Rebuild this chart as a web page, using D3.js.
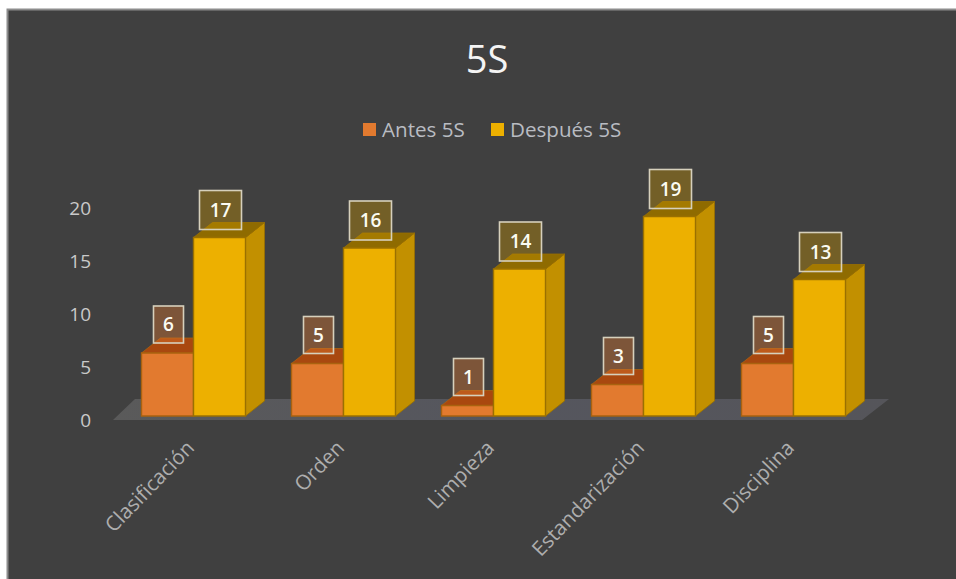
<!DOCTYPE html>
<html>
<head>
<meta charset="utf-8">
<script src="https://cdn.jsdelivr.net/npm/d3@7"></script>
<style>
  html, body { margin: 0; padding: 0; background: #fff; }
  svg { display: block; }
  text { font-family: "Open Sans", sans-serif; }
</style>
</head>
<body>
<div id="chart"></div>
<script>
const categories = ["Clasificación", "Orden", "Limpieza", "Estandarización", "Disciplina"];
const seriesNames = ["Antes 5S", "Después 5S"];
const antes = [6, 5, 1, 3, 5];
const despues = [17, 16, 14, 19, 13];
const yTicks = [0, 5, 10, 15, 20];
const seriesColors = [
  { front: "#e27a2f", top: "#a9480f", side: "#b85f1c", edge: "#a9620f", box: "#e27a2f" },
  { front: "#edb000", top: "#8f6b00", side: "#c29000", edge: "#9a7000", box: "#c79400" }
];

const width = 956, height = 579;
const depthX = 19, depthY = 15;

const svg = d3.select("#chart").append("svg").attr("width", width).attr("height", height);

svg.append("rect").attr("width", width).attr("height", height).attr("fill", "#fff");
svg.append("rect").attr("x", 7.5).attr("y", 9.5).attr("width", width + 20).attr("height", height + 20)
  .attr("fill", "#404040").attr("stroke", "#8c8c8c").attr("stroke-width", 2);

const defs = svg.append("defs");
const floorGrad = defs.append("linearGradient").attr("id", "floorFill");
floorGrad.append("stop").attr("offset", "0").attr("stop-color", "#5a5a5a");
floorGrad.append("stop").attr("offset", "0.5").attr("stop-color", "#55565e");
floorGrad.append("stop").attr("offset", "1").attr("stop-color", "#55555a");

const x = d3.scaleBand().domain(categories).range([118.5, 868.5]);
const inner = d3.scaleBand().domain(seriesNames).range([x.bandwidth() / 2 - 52, x.bandwidth() / 2 + 52]);
const y = d3.scaleLinear().domain([0, 20]).range([416, 206]);
const axisY = d3.scaleLinear().domain([0, 20]).range([420, 208]);

// Title
svg.append("text").attr("x", 487).attr("y", 73).attr("text-anchor", "middle")
  .attr("font-size", 38).attr("fill", "#f4f4f4").text("5S");

// Legend
const legendItems = [{ sx: 363, tx: 382 }, { sx: 491, tx: 510 }];
seriesNames.forEach((name, i) => {
  svg.append("rect").attr("x", legendItems[i].sx).attr("y", 123).attr("width", 13).attr("height", 13)
    .attr("fill", seriesColors[i].front);
  svg.append("text").attr("x", legendItems[i].tx).attr("y", 137)
    .attr("font-size", 20.6).attr("fill", "#b9bcc2").text(name);
});

// Floor of the 3D plot
const floor = d3.path();
floor.moveTo(113, 420); floor.lineTo(135, 399); floor.lineTo(889, 399); floor.lineTo(862, 420); floor.closePath();
svg.append("path").attr("d", floor.toString()).attr("fill", "url(#floorFill)");

// Value axis
const yAxis = svg.append("g").attr("transform", "translate(91,0)")
  .call(d3.axisLeft(axisY).tickValues(yTicks).tickSize(0).tickPadding(0));
yAxis.select(".domain").remove();
yAxis.selectAll("text").attr("font-size", 19).attr("fill", "#c9c9c9")
  .style("font-family", '"Open Sans", sans-serif');

// Category axis
const xAxis = svg.append("g").attr("transform", "translate(0,416)")
  .call(d3.axisBottom(x).tickSize(0).tickPadding(0));
xAxis.select(".domain").remove();
xAxis.selectAll("text")
  .attr("font-size", 20.5).attr("fill", "#aeaeae")
  .style("font-family", '"Open Sans", sans-serif')
  .attr("text-anchor", "end").attr("dy", 0).attr("y", 0)
  .attr("transform", "translate(2,33) rotate(-46)");

// Bars: front, top and side faces
const prism = {
  front: (l, r, t, b) => `M${l},${t}L${r},${t}L${r},${b}L${l},${b}Z`,
  top: (l, r, t) => `M${l},${t}L${l + depthX},${t - depthY}L${r + depthX},${t - depthY}L${r},${t}Z`,
  side: (r, t, b) => `M${r},${t}L${r + depthX},${t - depthY}L${r + depthX},${b - depthY}L${r},${b}Z`
};

const seriesValues = [antes, despues];
const groups = svg.selectAll("g.group").data(categories).join("g")
  .attr("class", "group")
  .attr("transform", d => `translate(${x(d)},0)`);

seriesNames.forEach((name, s) => {
  const c = seriesColors[s];
  const l = inner(name), r = l + inner.bandwidth();
  groups.append("path").attr("d", (d, i) => prism.side(r, y(seriesValues[s][i]), y(0)))
    .attr("fill", c.side).attr("stroke", c.edge).attr("stroke-width", 0.8);
  groups.append("path").attr("d", (d, i) => prism.top(l, r, y(seriesValues[s][i])))
    .attr("fill", c.top).attr("stroke", c.edge).attr("stroke-width", 0.8);
  groups.append("path").attr("d", (d, i) => prism.front(l, r, y(seriesValues[s][i]), y(0)))
    .attr("fill", c.front).attr("stroke", c.edge).attr("stroke-width", 1.4);
});

// Value labels in translucent boxes
seriesNames.forEach((name, s) => {
  const c = seriesColors[s];
  const w = s === 0 ? 30 : 42;
  const h = s === 0 ? 37 : 39;
  const gap = s === 0 ? 10 : 8;
  const cx = inner(name) + inner.bandwidth() / 2 + 1;
  const lab = groups.append("g")
    .attr("transform", (d, i) => `translate(${cx},${y(seriesValues[s][i]) - gap})`);
  lab.append("rect").attr("x", -w / 2).attr("y", -h).attr("width", w).attr("height", h)
    .attr("fill", c.box).attr("fill-opacity", 0.38)
    .attr("stroke", "#d6d0bc").attr("stroke-width", 1.6);
  lab.append("text").attr("y", -h / 2 + 6.5).attr("text-anchor", "middle")
    .attr("font-size", 19).attr("font-weight", 600).attr("fill", "#fbfbf2")
    .text((d, i) => seriesValues[s][i]);
});
</script>
</body>
</html>
